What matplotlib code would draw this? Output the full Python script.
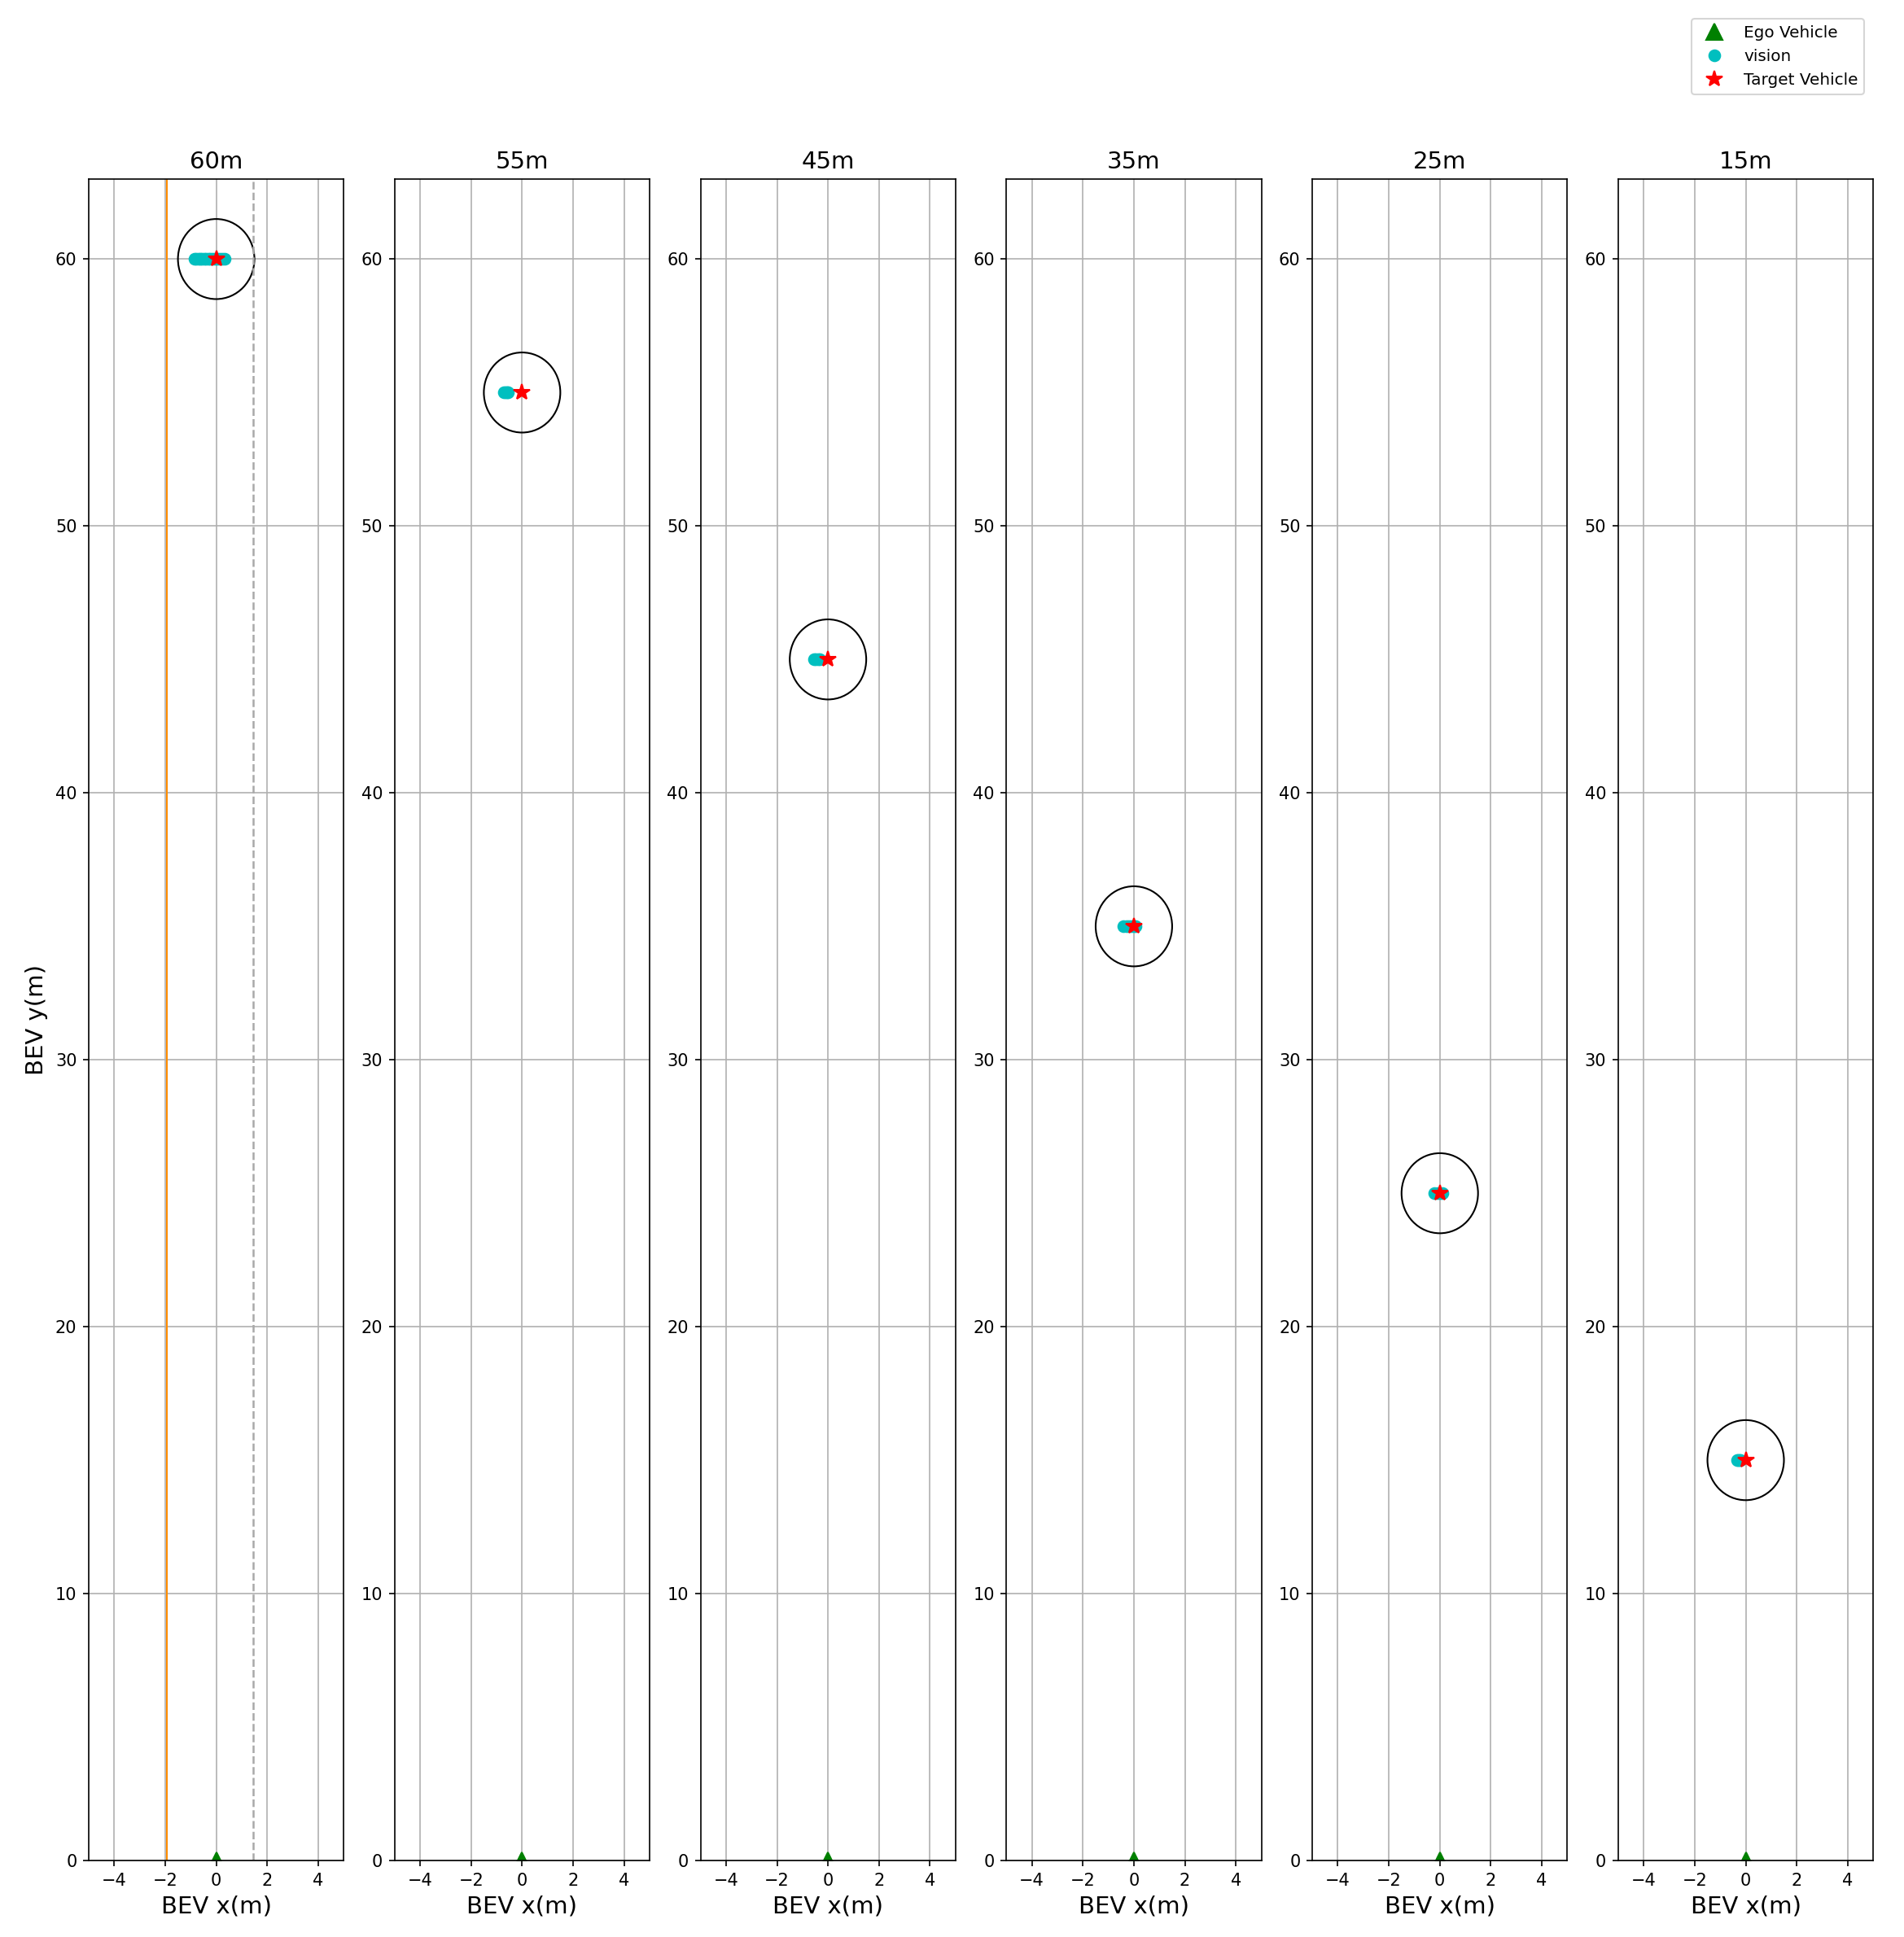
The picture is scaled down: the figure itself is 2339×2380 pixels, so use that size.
import matplotlib
matplotlib.use("Agg")
import matplotlib.pyplot as plt
import numpy as np

# distances of the target vehicle (one panel each)
distances = [60, 55, 45, 35, 25, 15]
titles = ["60m", "55m", "45m", "35m", "25m", "15m"]

# vision detections (x positions, at the target distance)
vision_x = [
    [-0.85, -0.78, -0.7, -0.62, -0.55, -0.47, -0.4, -0.32, -0.25, -0.15, -0.05, 0.05, 0.15, 0.25, 0.33],
    [-0.7, -0.65, -0.6, -0.57],
    [-0.55, -0.48, -0.4, -0.33],
    [-0.4, -0.3, -0.2, -0.1, 0.0, 0.08],
    [-0.2, -0.1, 0.0, 0.1],
    [-0.35, -0.3, -0.25, -0.2],
]

# lane lines (only in first panel)
lane_left_x = -1.94
lane_right_x = 1.45
circle_r = 1.5

fig, axes = plt.subplots(1, 6, figsize=(2339 / 150, 2380 / 150), dpi=150)
plt.subplots_adjust(left=0.0466, right=0.9838, bottom=0.0395, top=0.9076, wspace=0.2)

for i, ax in enumerate(axes):
    d = distances[i]
    ax.grid(True, zorder=0)
    ax.set_axisbelow(True)
    if i == 0:
        ax.axvline(lane_left_x, color="darkorange", linewidth=1.0)
        ax.axvline(lane_right_x, color="darkgray", linestyle="--", linewidth=1.2)
    ax.plot([0], [0], "^", color="green", markersize=10, label="Ego Vehicle")
    vx = vision_x[i]
    ax.plot(vx, [d] * len(vx), "o", color="c", markersize=6.5, label="vision")
    ax.plot([0], [d], "*", color="red", markersize=10, label="Target Vehicle")
    ax.add_patch(plt.Circle((0, d), circle_r, fill=False, color="black", linewidth=1.0))
    ax.set_xlim(-5, 5)
    ax.set_ylim(0, 63)
    ax.set_xticks([-4, -2, 0, 2, 4])
    ax.set_yticks([0, 10, 20, 30, 40, 50, 60])
    ax.set_title(titles[i], fontsize=14)
    ax.set_xlabel("BEV x(m)", fontsize=14)
    if i == 0:
        ax.set_ylabel("BEV y(m)", fontsize=14)

handles, labels = axes[0].get_legend_handles_labels()
fig.legend(handles, labels, loc="upper right", bbox_to_anchor=(0.9835, 0.9945), fontsize=9.6)

plt.savefig("out.png", dpi=150)
